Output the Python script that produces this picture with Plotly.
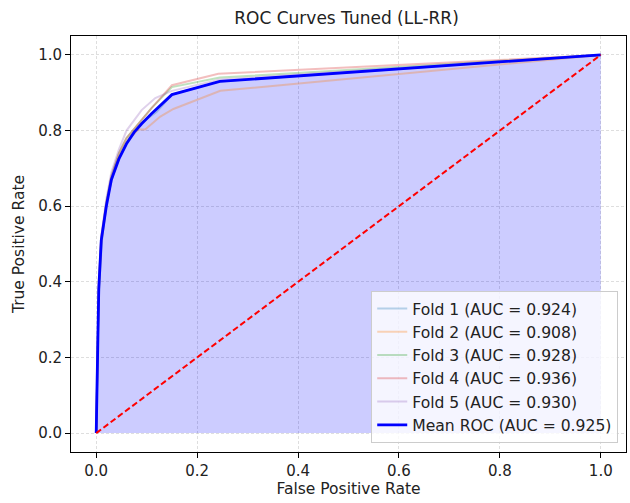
import plotly.graph_objects as go

mean_fpr = [0, 0.002, 0.005, 0.01, 0.02, 0.03, 0.045, 0.06, 0.075, 0.09, 0.11, 0.15, 0.245, 1.0]
mean_tpr = [0, 0.20, 0.38, 0.51, 0.60, 0.67, 0.725, 0.765, 0.795, 0.818, 0.845, 0.895, 0.93, 1.0]

fold_names = ["Fold 1 (AUC = 0.924)", "Fold 2 (AUC = 0.908)", "Fold 3 (AUC = 0.928)",
              "Fold 4 (AUC = 0.936)", "Fold 5 (AUC = 0.930)"]
fold_colors = ["rgba(31,119,180,0.3)", "rgba(255,127,14,0.3)", "rgba(44,160,44,0.3)",
               "rgba(214,39,40,0.3)", "rgba(148,103,189,0.3)"]
fold_fpr = [
    [0, 0.002, 0.006, 0.012, 0.022, 0.038, 0.05, 0.065, 0.09, 0.12, 0.15, 0.245, 1.0],
    [0, 0.002, 0.005, 0.01, 0.02, 0.03, 0.045, 0.06, 0.084, 0.097, 0.127, 0.153, 0.246, 1.0],
    [0, 0.002, 0.005, 0.01, 0.02, 0.03, 0.045, 0.06, 0.085, 0.11, 0.15, 0.245, 1.0],
    [0, 0.002, 0.005, 0.01, 0.02, 0.03, 0.045, 0.06, 0.085, 0.11, 0.15, 0.242, 1.0],
    [0, 0.002, 0.005, 0.01, 0.02, 0.03, 0.045, 0.06, 0.09, 0.117, 0.15, 0.245, 1.0],
]
fold_tpr = [
    [0, 0.21, 0.39, 0.52, 0.62, 0.709, 0.74, 0.78, 0.82, 0.85, 0.895, 0.93, 1.0],
    [0, 0.19, 0.37, 0.50, 0.60, 0.67, 0.73, 0.77, 0.803, 0.803, 0.837, 0.857, 0.905, 1.0],
    [0, 0.20, 0.38, 0.51, 0.61, 0.68, 0.74, 0.78, 0.82, 0.86, 0.915, 0.94, 1.0],
    [0, 0.22, 0.40, 0.52, 0.61, 0.68, 0.74, 0.78, 0.82, 0.86, 0.92, 0.95, 1.0],
    [0, 0.20, 0.39, 0.52, 0.62, 0.69, 0.75, 0.80, 0.854, 0.886, 0.905, 0.935, 1.0],
]

mean_name = "Mean ROC (AUC = 0.925)"
diag = [0, 1]

fig = go.Figure()

fig.add_trace(go.Scatter(x=mean_fpr, y=mean_tpr, mode="lines", line=dict(width=0),
                         fill="tozeroy", fillcolor="rgba(0,0,255,0.2)",
                         showlegend=False, hoverinfo="skip"))

for fx, fy, nm, col in zip(fold_fpr, fold_tpr, fold_names, fold_colors):
    fig.add_trace(go.Scatter(x=fx, y=fy, mode="lines", name=nm,
                             line=dict(color=col, width=2)))

fig.add_trace(go.Scatter(x=mean_fpr, y=mean_tpr, mode="lines", name=mean_name,
                         line=dict(color="blue", width=2.8)))

fig.add_trace(go.Scatter(x=diag, y=diag, mode="lines", showlegend=False,
                         line=dict(color="red", width=2, dash="6px,3px")))

axis_common = dict(
    showline=True, linecolor="black", linewidth=1, mirror=True,
    ticks="outside", ticklen=5, tickcolor="black", tickwidth=1,
    showgrid=True, gridcolor="rgba(200,200,200,0.6)", griddash="3px,2px", gridwidth=1,
    zeroline=False, tickfont=dict(size=15, color="#222"),
    tickvals=[0, 0.2, 0.4, 0.6, 0.8, 1.0],
    ticktext=["0.0", "0.2", "0.4", "0.6", "0.8", "1.0"],
    range=[-0.05, 1.05],
)

fig.update_layout(
    width=630, height=503,
    margin=dict(l=71, r=4, t=36, b=51),
    paper_bgcolor="white", plot_bgcolor="white",
    font=dict(family="DejaVu Sans", size=15, color="#222"),
    title=dict(text="ROC Curves Tuned (LL-RR)", x=0.55, xanchor="center", y=0.965,
               yanchor="middle", font=dict(size=17, color="#222")),
    xaxis=dict(**axis_common, title=dict(text="False Positive Rate", standoff=4,
                                         font=dict(size=15.5))),
    yaxis=dict(**axis_common, title=dict(text="True Positive Rate", standoff=9,
                                         font=dict(size=15.5))),
    legend=dict(x=0.986, y=0.022, xanchor="right", yanchor="bottom",
                bgcolor="rgba(255,255,255,0.8)", bordercolor="#cccccc", borderwidth=1,
                font=dict(size=15.6, color="#222"), tracegroupgap=0),
)

fig.write_html("out.html")
